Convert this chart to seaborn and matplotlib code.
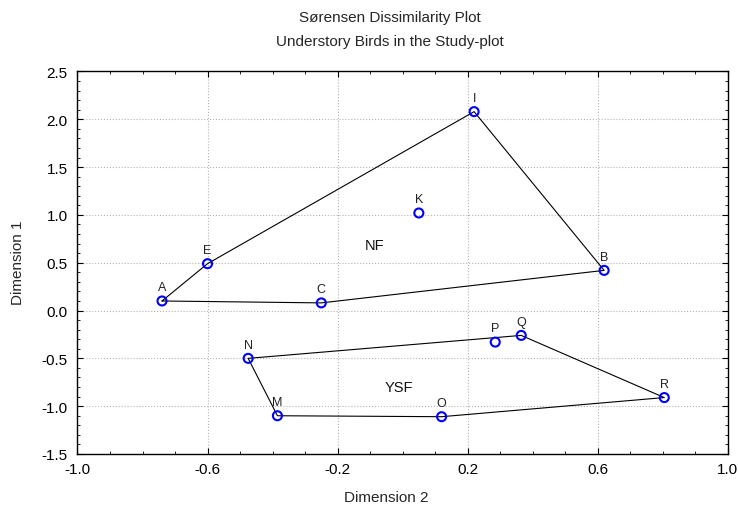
import matplotlib
matplotlib.use('Agg')
import matplotlib.pyplot as plt
import seaborn as sns
import pandas as pd
from matplotlib.ticker import MultipleLocator

# Site coordinates
sites = ['A', 'B', 'C', 'E', 'I', 'K', 'M', 'N', 'O', 'P', 'Q', 'R']
dim2 = [-0.74, 0.62, -0.25, -0.60, 0.22, 0.05, -0.385, -0.475, 0.12, 0.285, 0.365, 0.805]
dim1 = [0.10, 0.42, 0.08, 0.49, 2.08, 1.02, -1.10, -0.50, -1.11, -0.33, -0.26, -0.91]

# Hull outlines for the two forest types
nf_hull = ['A', 'E', 'I', 'B', 'C', 'A']
ysf_hull = ['N', 'Q', 'R', 'O', 'M', 'N']
group_names = ['NF', 'YSF']
group_x = [-0.085, -0.01]
group_y = [0.69, -0.80]

x_ticks = [-1.0, -0.6, -0.2, 0.2, 0.6, 1.0]
y_ticks = [-1.5, -1.0, -0.5, 0.0, 0.5, 1.0, 1.5, 2.0, 2.5]

df = pd.DataFrame({'site': sites, 'dim2': dim2, 'dim1': dim1}).set_index('site')

sns.set_style('ticks')
plt.rcParams['font.family'] = ['Liberation Sans', 'DejaVu Sans']

fig = plt.figure(figsize=(7.38, 5.06), dpi=100)
ax = fig.add_axes([0.105, 0.1008, 0.881, 0.756])

# grid only at labelled ticks
for xv in x_ticks[1:-1]:
    ax.axvline(xv, color='#b4b4b4', lw=0.8, ls=':', zorder=0)
for yv in y_ticks[1:-1]:
    ax.axhline(yv, color='#b4b4b4', lw=0.8, ls=':', zorder=0)

# hull outlines (no aggregation, keep drawing order)
for hull in [nf_hull, ysf_hull]:
    pts = df.loc[hull]
    sns.lineplot(x=pts['dim2'].values, y=pts['dim1'].values, sort=False,
                 estimator=None, color='black', lw=0.8, ax=ax, zorder=2)

sns.scatterplot(data=df, x='dim2', y='dim1', marker='o', s=42,
                facecolor='none', edgecolor='#0000ff', linewidth=1.5,
                ax=ax, zorder=3)

for s, row in df.iterrows():
    ax.annotate(s, (row['dim2'], row['dim1']), xytext=(0, 5.5),
                textcoords='offset points', ha='center', va='bottom',
                fontsize=9, color='#222222')

for name, gx, gy in zip(group_names, group_x, group_y):
    ax.text(gx, gy, name, ha='center', va='center', fontsize=10.5, color='#111111')

ax.set_xlim(-1.0, 1.0)
ax.set_ylim(-1.5, 2.5)
ax.set_xticks(x_ticks)
ax.set_yticks(y_ticks)
ax.set_xticklabels([f'{v:.1f}' for v in x_ticks])
ax.set_yticklabels([f'{v:.1f}' for v in y_ticks])
ax.xaxis.set_minor_locator(MultipleLocator(0.1))
ax.yaxis.set_minor_locator(MultipleLocator(0.1))
ax.tick_params(which='both', direction='in', top=True, right=True,
               labelsize=11, colors='black')
ax.tick_params(which='major', length=4, width=0.8)
ax.tick_params(which='minor', length=2.5, width=0.6)
ax.tick_params(axis='x', pad=6)
ax.tick_params(axis='y', pad=7)
ax.set_xlabel('')
ax.set_ylabel('')
for sp in ax.spines.values():
    sp.set_linewidth(1.0)
    sp.set_color('black')

fig.text(0.528, 1 - 18 / 506, 'Sørensen Dissimilarity Plot', ha='center', va='center', fontsize=11)
fig.text(0.528, 1 - 42 / 506, 'Understory Birds in the Study-plot', ha='center', va='center', fontsize=11)
fig.text(0.524, 1 - 498 / 506, 'Dimension 2', ha='center', va='center', fontsize=11)
fig.text(0.025, 1 - 263 / 506, 'Dimension 1', ha='center', va='center', rotation=90, fontsize=11)

fig.savefig('out.png', dpi=100)
